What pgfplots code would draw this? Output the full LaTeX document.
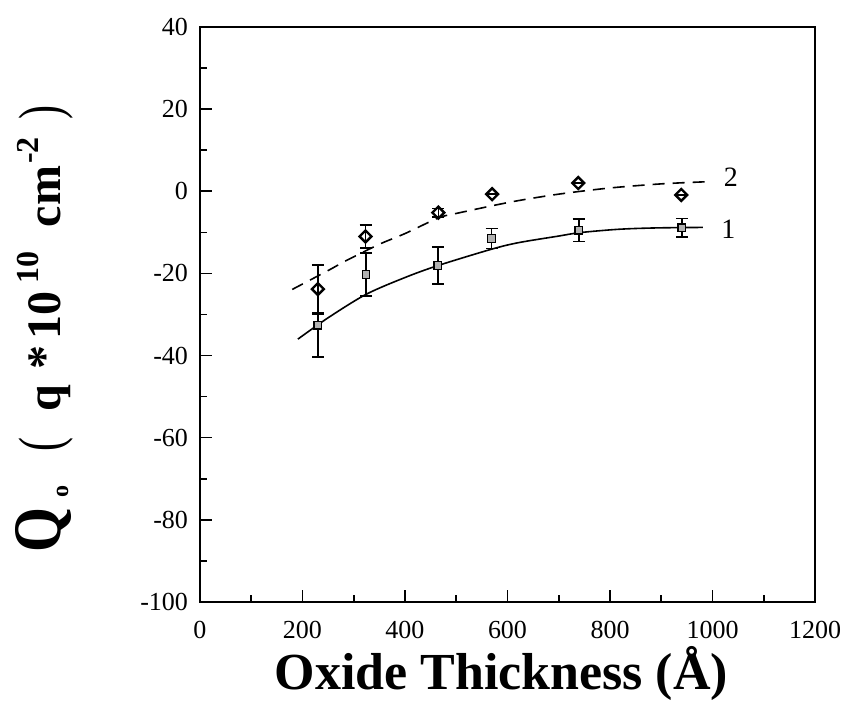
\documentclass[border=0pt]{standalone}
\usepackage{pgfplots}
\pgfplotsset{compat=1.18}
\usepackage{fontspec}
\setmainfont{Liberation Serif}

\begin{document}
\begin{tikzpicture}
\begin{axis}[
    scale only axis,
    width=307.5pt, height=287.5pt,
    xmin=0, xmax=1200, ymin=-100, ymax=40,
    xtick={0,200,...,1200}, ytick={-100,-80,...,40},
    minor x tick num=1, minor y tick num=1,
    tick pos=left, tick align=inside,
    major tick length=6pt, minor tick length=3.5pt,
    axis line style={line width=1pt},
    every tick/.append style={line width=0.8pt, black},
    tick label style={font=\fontsize{13}{13}\selectfont},
    /pgf/number format/assume math mode=true,
    /pgf/number format/1000 sep={},
    xticklabel style={yshift=-6pt},
    yticklabel style={xshift=-2.5pt},
    xlabel={Oxide Thickness (Å)},
    xlabel style={at={(rel axis cs:0.49,0)}, anchor=base, yshift=-44pt,
        font=\bfseries\fontsize{26}{26}\selectfont},
    clip=false,
]
% fitted curves
\addplot[black, line width=0.8pt, smooth] coordinates {
    (191,-36.0) (250,-30.8) (324,-25.1) (400,-21.0) (464,-18.1)
    (569,-14.1) (622,-12.5) (700,-10.9) (739,-10.1) (800,-9.4)
    (842,-9.1) (900,-8.9) (981,-8.8)
};
\addplot[black, line width=0.8pt, dash pattern=on 6pt off 4pt, smooth] coordinates {
    (180,-23.9) (250,-19.3) (285,-16.9) (350,-12.9) (400,-10.3)
    (465,-6.5) (500,-5.4) (607,-2.6) (700,-0.7) (800,0.8)
    (900,1.8) (985,2.3)
};
% curve 1 data
\addplot[only marks, mark=square*, mark size=1.9pt,
    mark options={fill=gray!60, draw=black, line width=0.6pt},
    error bars/.cd, y dir=both, y explicit,
    error bar style={line width=0.8pt, black},
    error mark options={rotate=90, mark size=3pt, line width=0.8pt, black}]
coordinates {
    (230,-32.6) += (0,2.7) -= (0,7.8)
    (324,-20.3) +- (0,5.2)
    (464,-18.1) +- (0,4.5)
    (569,-11.5) +- (0,2.4)
    (739,-9.5) +- (0,2.7)
    (940,-8.9) +- (0,2.3)
};
% curve 2 data
\addplot[only marks, mark=square, mark size=2.1pt,
    mark options={rotate=45, fill=white, draw=black, line width=1.2pt},
    error bars/.cd, y dir=both, y explicit,
    error bar style={line width=0.8pt, black},
    error mark options={rotate=90, mark size=3pt, line width=0.8pt, black}]
coordinates {
    (230,-23.8) +- (0,5.8)
    (323,-11.0) +- (0,2.8)
    (465,-5.2) +- (0,1.0)
    (570,-0.7) +- (0,0)
    (738,2.0) +- (0,0)
    (939,-0.9) +- (0,0)
};
\node[font=\fontsize{14}{14}\selectfont] at (axis cs:1036,3.4) {2};
\node[font=\fontsize{14}{14}\selectfont] at (axis cs:1031,-9.3) {1};
\node[anchor=base west, inner sep=0pt, rotate=90,
    font=\bfseries\fontsize{24}{24}\selectfont] at (axis cs:-273,-88.1)
    {\scalebox{0.85}[1]{\fontsize{34}{34}\selectfont Q}\hspace{5pt}\raisebox{-4pt}{\fontsize{12}{12}\selectfont o}\hspace{17pt}\scalebox{0.7}[1]{\mdseries\fontsize{30}{30}\selectfont (}\hspace{13pt}q\hspace{8pt}*\hspace{3pt}10\hspace{4pt}\raisebox{11pt}{\fontsize{16}{16}\selectfont 10}\hspace{12pt}cm\hspace{1pt}\raisebox{11pt}{\fontsize{16}{16}\selectfont -2}\hspace{9pt}\scalebox{0.7}[1]{\mdseries\fontsize{30}{30}\selectfont )}};
\coordinate (sw) at (rel axis cs:0,0);
\coordinate (ne) at (rel axis cs:1,1);
\end{axis}
\pgfresetboundingbox
\path[use as bounding box] ([shift={(-100pt,-50.5pt)}]sw) rectangle ([shift={(13pt,13.5pt)}]ne);
\end{tikzpicture}
\end{document}
